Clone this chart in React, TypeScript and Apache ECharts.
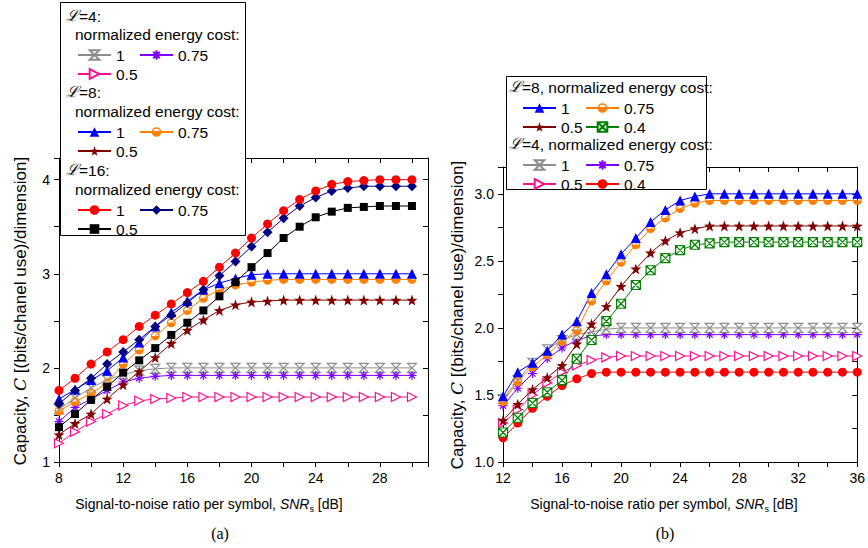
import React, { useEffect, useRef } from "react";
import * as echarts from "echarts";

const FONT = "Liberation Sans, Arial, Helvetica, sans-serif";

// ---------- data: panel (a) ----------
const snrA = [8, 9, 10, 11, 12, 13, 14, 15, 16, 17, 18, 19, 20, 21, 22, 23, 24, 25, 26, 27, 28, 29, 30];
const capA_L4_1 = [1.56, 1.68, 1.79, 1.87, 1.93, 1.97, 1.99, 2.0, 2.0, 2.0, 2.0, 2.0, 2.0, 2.0, 2.0, 2.0, 2.0, 2.0, 2.0, 2.0, 2.0, 2.0, 2.0];
const capA_L4_075 = [1.43, 1.58, 1.67, 1.76, 1.85, 1.89, 1.91, 1.92, 1.92, 1.92, 1.92, 1.92, 1.92, 1.92, 1.92, 1.92, 1.92, 1.92, 1.92, 1.92, 1.92, 1.92, 1.92];
const capA_L4_05 = [1.2, 1.32, 1.43, 1.51, 1.6, 1.65, 1.67, 1.68, 1.69, 1.69, 1.69, 1.69, 1.69, 1.69, 1.69, 1.69, 1.69, 1.69, 1.69, 1.69, 1.69, 1.69, 1.69];
const capA_L8_1 = [1.67, 1.77, 1.87, 1.97, 2.11, 2.27, 2.44, 2.59, 2.71, 2.83, 2.9, 2.95, 2.99, 3.0, 3.0, 3.0, 3.0, 3.0, 3.0, 3.0, 3.0, 3.0, 3.0];
const capA_L8_075 = [1.54, 1.64, 1.73, 1.84, 2.04, 2.19, 2.34, 2.48, 2.61, 2.74, 2.83, 2.88, 2.91, 2.93, 2.94, 2.94, 2.94, 2.94, 2.94, 2.94, 2.94, 2.94, 2.94];
const capA_L8_05 = [1.29, 1.41, 1.51, 1.67, 1.82, 1.96, 2.11, 2.26, 2.4, 2.51, 2.61, 2.67, 2.7, 2.71, 2.72, 2.72, 2.72, 2.72, 2.72, 2.72, 2.72, 2.72, 2.72];
const capA_L16_1 = [1.76, 1.89, 2.04, 2.17, 2.3, 2.44, 2.56, 2.68, 2.8, 2.92, 3.07, 3.22, 3.38, 3.53, 3.67, 3.79, 3.88, 3.95, 3.98, 3.99, 4.0, 4.0, 4.0];
const capA_L16_075 = [1.62, 1.76, 1.89, 2.04, 2.17, 2.3, 2.44, 2.56, 2.69, 2.83, 2.98, 3.13, 3.29, 3.44, 3.59, 3.72, 3.81, 3.88, 3.91, 3.93, 3.93, 3.93, 3.93];
const capA_L16_05 = [1.37, 1.51, 1.66, 1.8, 1.95, 2.08, 2.21, 2.35, 2.48, 2.61, 2.76, 2.91, 3.07, 3.22, 3.38, 3.5, 3.6, 3.66, 3.7, 3.71, 3.72, 3.72, 3.72];

// ---------- data: panel (b) ----------
const snrB = [12, 13, 14, 15, 16, 17, 18, 19, 20, 21, 22, 23, 24, 25, 26, 27, 28, 29, 30, 31, 32, 33, 34, 35, 36];
const capB_L8_1 = [1.49, 1.67, 1.74, 1.83, 1.95, 2.05, 2.26, 2.4, 2.55, 2.67, 2.79, 2.88, 2.95, 2.98, 3.0, 3.0, 3.0, 3.0, 3.0, 3.0, 3.0, 3.0, 3.0, 3.0, 3.0];
const capB_L8_075 = [1.45, 1.6, 1.71, 1.8, 1.9, 1.98, 2.2, 2.35, 2.49, 2.62, 2.74, 2.82, 2.89, 2.93, 2.95, 2.95, 2.95, 2.95, 2.95, 2.95, 2.95, 2.95, 2.95, 2.95, 2.95];
const capB_L8_05 = [1.31, 1.43, 1.54, 1.63, 1.72, 1.88, 2.03, 2.16, 2.31, 2.44, 2.56, 2.65, 2.71, 2.74, 2.76, 2.76, 2.76, 2.76, 2.76, 2.76, 2.76, 2.76, 2.76, 2.76, 2.76];
const capB_L8_04 = [1.22, 1.33, 1.44, 1.52, 1.61, 1.77, 1.91, 2.05, 2.18, 2.32, 2.43, 2.52, 2.58, 2.62, 2.63, 2.64, 2.64, 2.64, 2.64, 2.64, 2.64, 2.64, 2.64, 2.64, 2.64];
const capB_L4_1 = [1.47, 1.61, 1.74, 1.84, 1.91, 1.95, 1.97, 1.99, 2.0, 2.0, 2.0, 2.0, 2.0, 2.0, 2.0, 2.0, 2.0, 2.0, 2.0, 2.0, 2.0, 2.0, 2.0, 2.0, 2.0];
const capB_L4_075 = [1.42, 1.55, 1.66, 1.77, 1.85, 1.91, 1.94, 1.95, 1.95, 1.95, 1.95, 1.95, 1.95, 1.95, 1.95, 1.95, 1.95, 1.95, 1.95, 1.95, 1.95, 1.95, 1.95, 1.95, 1.95];
const capB_L4_05 = [1.29, 1.39, 1.5, 1.59, 1.67, 1.72, 1.76, 1.78, 1.79, 1.79, 1.79, 1.79, 1.79, 1.79, 1.79, 1.79, 1.79, 1.79, 1.79, 1.79, 1.79, 1.79, 1.79, 1.79, 1.79];
const capB_L4_04 = [1.18, 1.29, 1.4, 1.49, 1.57, 1.62, 1.66, 1.67, 1.67, 1.67, 1.67, 1.67, 1.67, 1.67, 1.67, 1.67, 1.67, 1.67, 1.67, 1.67, 1.67, 1.67, 1.67, 1.67, 1.67];

// legend labels (normalized energy cost)
const costLabels = ["1", "0.75", "0.5", "0.4"];

// ---------- symbols ----------
const SYM_STAR = "path://M10 0L12.35 6.76L19.51 6.91L13.8 11.24L15.88 18.09L10 14L4.12 18.09L6.2 11.24L0.49 6.91L7.65 6.76Z";
const SYM_HALF = "path://M0 10A10 10 0 1 1 20 10A10 10 0 1 1 0 10Z M3 10L17 10A7 7 0 0 0 3 10Z";
const SYM_HOURGLASS = "path://M0 0L10 0L0 10L10 10Z";
const SYM_BOXX = "path://M0 0L10 0L10 10L0 10Z M0 0L10 10 M10 0L0 10";
const SYM_AST = "path://M5 0L5 10M0 5L10 5M1.6 1.6L8.4 8.4M8.4 1.6L1.6 8.4";
const SYM_RTRI = "path://M0 0L10 5L0 10Z";

const C_GRAY = "#8c8c8c";
const C_PURPLE = "#8000ff";
const C_PINK = "#ff0f8f";
const C_BLUE = "#0000ff";
const C_ORANGE = "#ff8000";
const C_MAROON = "#800000";
const C_RED = "#ff0000";
const C_NAVY = "#000080";
const C_BLACK = "#000000";
const C_GREEN = "#008000";

type Sty = { color: string; symbol: string; size: number; hollow: boolean };
const S_L4_1: Sty = { color: C_GRAY, symbol: SYM_HOURGLASS, size: 9, hollow: true };
const S_L4_075: Sty = { color: C_PURPLE, symbol: SYM_AST, size: 9, hollow: true };
const S_L4_05: Sty = { color: C_PINK, symbol: SYM_RTRI, size: 9, hollow: true };
const S_L8_1: Sty = { color: C_BLUE, symbol: "triangle", size: 10, hollow: false };
const S_L8_075: Sty = { color: C_ORANGE, symbol: SYM_HALF, size: 9, hollow: false };
const S_L8_05: Sty = { color: C_MAROON, symbol: SYM_STAR, size: 11, hollow: false };
const S_L8_04: Sty = { color: C_GREEN, symbol: SYM_BOXX, size: 9, hollow: true };
const S_RED: Sty = { color: C_RED, symbol: "circle", size: 9, hollow: false };
const S_NAVY: Sty = { color: C_NAVY, symbol: "diamond", size: 10, hollow: false };
const S_BLACK: Sty = { color: C_BLACK, symbol: "rect", size: 8, hollow: false };

function mkSeries(name: string, xs: number[], ys: number[], s: Sty, panel: number, z: number) {
  return {
    type: "line",
    name,
    xAxisIndex: panel * 2,
    yAxisIndex: panel * 2,
    data: xs.map((x, i) => [x, ys[i]]),
    symbol: s.symbol,
    symbolSize: s.size,
    showAllSymbol: true,
    lineStyle: { color: s.color, width: 1 },
    itemStyle: s.hollow
      ? { color: "#ffffff", borderColor: s.color, borderWidth: 1.2 }
      : { color: s.color, borderWidth: 0 },
    emphasis: { disabled: true },
    z,
  };
}

const seriesList = [
  mkSeries("a41", snrA, capA_L4_1, S_L4_1, 0, 2),
  mkSeries("a4075", snrA, capA_L4_075, S_L4_075, 0, 2),
  mkSeries("a405", snrA, capA_L4_05, S_L4_05, 0, 2),
  mkSeries("a805", snrA, capA_L8_05, S_L8_05, 0, 3),
  mkSeries("a8075", snrA, capA_L8_075, S_L8_075, 0, 3),
  mkSeries("a81", snrA, capA_L8_1, S_L8_1, 0, 3),
  mkSeries("a1605", snrA, capA_L16_05, S_BLACK, 0, 4),
  mkSeries("a16075", snrA, capA_L16_075, S_NAVY, 0, 4),
  mkSeries("a161", snrA, capA_L16_1, S_RED, 0, 4),
  mkSeries("b404", snrB, capB_L4_04, S_RED, 1, 2),
  mkSeries("b405", snrB, capB_L4_05, S_L4_05, 1, 2),
  mkSeries("b4075", snrB, capB_L4_075, S_L4_075, 1, 2),
  mkSeries("b41", snrB, capB_L4_1, S_L4_1, 1, 2),
  mkSeries("b804", snrB, capB_L8_04, S_L8_04, 1, 3),
  mkSeries("b805", snrB, capB_L8_05, S_L8_05, 1, 3),
  mkSeries("b8075", snrB, capB_L8_075, S_L8_075, 1, 3),
  mkSeries("b81", snrB, capB_L8_1, S_L8_1, 1, 3),
];

// legend layout: [series name, label index, left, row center y]
const legendLayout: [string, number, number, number][] = [
  ["a41", 0, 77, 53], ["a4075", 1, 139, 53], ["a405", 2, 77, 72],
  ["a81", 0, 77, 130], ["a8075", 1, 139, 130], ["a805", 2, 77, 149],
  ["a161", 0, 77, 208], ["a16075", 1, 139, 208], ["a1605", 2, 77, 227],
  ["b81", 0, 522, 106], ["b8075", 1, 585, 106], ["b805", 2, 522, 125], ["b804", 3, 585, 125],
  ["b41", 0, 522, 163], ["b4075", 1, 585, 163], ["b405", 2, 522, 182], ["b404", 3, 585, 182],
];

const LEG_FS = 15.5;

function xAxisPair(grid: number, min: number, max: number, interval: number, labelStep: number) {
  const fmt = (v: number) => (Math.abs(v / labelStep - Math.round(v / labelStep)) < 1e-6 ? String(v) : "");
  return [
    {
      type: "value", gridIndex: grid, position: "bottom", min, max, interval,
      axisLine: { show: true, onZero: false, lineStyle: { color: "#000", width: 1 } },
      axisTick: { show: true, inside: false, length: 5, lineStyle: { color: "#000", width: 1 } },
      axisLabel: { formatter: fmt, fontSize: 14, color: "#000", margin: 9, fontFamily: FONT, showMaxLabel: true, showMinLabel: true },
      splitLine: { show: false },
    },
    {
      type: "value", gridIndex: grid, position: "top", min, max, interval,
      axisLine: { show: true, onZero: false, lineStyle: { color: "#000", width: 1 } },
      axisTick: { show: true, inside: true, length: 5, lineStyle: { color: "#000", width: 1 } },
      axisLabel: { show: false },
      splitLine: { show: false },
    },
  ];
}

function yAxisPair(grid: number, min: number, max: number, interval: number, labelStep: number, digits: number) {
  const fmt = (v: number) => (Math.abs(v / labelStep - Math.round(v / labelStep)) < 1e-6 ? v.toFixed(digits) : "");
  return [
    {
      type: "value", gridIndex: grid, position: "left", min, max, interval,
      axisLine: { show: true, onZero: false, lineStyle: { color: "#000", width: 1 } },
      axisTick: { show: true, inside: false, length: 5, lineStyle: { color: "#000", width: 1 } },
      axisLabel: { formatter: fmt, fontSize: 14, color: "#000", margin: 9, fontFamily: FONT },
      splitLine: { show: false },
    },
    {
      type: "value", gridIndex: grid, position: "right", min, max, interval,
      axisLine: { show: true, onZero: false, lineStyle: { color: "#000", width: 1 } },
      axisTick: { show: true, inside: true, length: 5, lineStyle: { color: "#000", width: 1 } },
      axisLabel: { show: false },
      splitLine: { show: false },
    },
  ];
}

function headerText(x: number, y: number, text: string) {
  return {
    type: "text", x, y, z: 12,
    style: {
      text, fontSize: LEG_FS, fontFamily: FONT, fill: "#000", align: "left", verticalAlign: "middle",
      rich: { i: { fontStyle: "italic", fontSize: LEG_FS, fontFamily: "DejaVu Serif, serif" } },
    },
  };
}

export default function App() {
  const ref = useRef<HTMLDivElement>(null);
  useEffect(() => {
    if (!ref.current) return;
    const chart = echarts.init(ref.current, undefined, { renderer: "svg" });
    const xa = xAxisPair(0, 8, 31, 2, 4);
    const xb = xAxisPair(1, 12, 36, 2, 4);
    const ya = yAxisPair(0, 1, 4.23, 0.5, 1, 0);
    const yb = yAxisPair(1, 1, 3.2, 0.25, 0.5, 1);

    const legends = legendLayout.map(([name, li, left, cy]) => ({
      show: true,
      left,
      top: cy - 6,
      padding: 0,
      itemWidth: 33,
      itemHeight: 12,
      itemGap: 0,
      selectedMode: false,
      data: [name],
      formatter: () => costLabels[li],
      textStyle: { fontSize: LEG_FS, fontFamily: FONT, color: "#000", lineHeight: 16 },
      z: 20,
    }));

    const titleRich = {
      i: { fontStyle: "italic", fontSize: 17, fontFamily: "DejaVu Serif, serif" },
    };
    const xRich = {
      i: { fontStyle: "italic", fontSize: 14, fontFamily: FONT },
      s: { fontSize: 9, fontFamily: FONT, padding: [9, 0, 0, 0] },
    };

    const graphic = [
      // legend boxes
      { type: "rect", z: 10, shape: { x: 60.5, y: 2.5, width: 185, height: 233 }, style: { fill: "#fff", stroke: "#000", lineWidth: 1 } },
      { type: "rect", z: 10, shape: { x: 506.5, y: 76.5, width: 200, height: 113 }, style: { fill: "#fff", stroke: "#000", lineWidth: 1 } },
      headerText(66, 16, "{i|ℒ}=4:"),
      headerText(75, 34, "normalized energy cost:"),
      headerText(66, 92, "{i|ℒ}=8:"),
      headerText(75, 111, "normalized energy cost:"),
      headerText(66, 170, "{i|ℒ}=16:"),
      headerText(75, 189, "normalized energy cost:"),
      headerText(509, 87, "{i|ℒ}=8, normalized energy cost:"),
      headerText(509, 144, "{i|ℒ}=4, normalized energy cost:"),
      // axis titles
      {
        type: "text", x: 20, y: 311, rotation: Math.PI / 2, z: 5,
        style: { text: "Capacity, {i|C} [(bits/chanel use)/dimension]", fontSize: 17, fontFamily: FONT, fill: "#000", align: "center", verticalAlign: "middle", rich: titleRich },
      },
      {
        type: "text", x: 457, y: 315, rotation: Math.PI / 2, z: 5,
        style: { text: "Capacity, {i|C} [(bits/chanel use)/dimension]", fontSize: 17, fontFamily: FONT, fill: "#000", align: "center", verticalAlign: "middle", rich: titleRich },
      },
      {
        type: "text", x: 209, y: 504, z: 5,
        style: { text: "Signal-to-noise ratio per symbol, {i|SNR}{s|s} [dB]", fontSize: 14, fontFamily: FONT, fill: "#000", align: "center", verticalAlign: "middle", rich: xRich },
      },
      {
        type: "text", x: 664, y: 504, z: 5,
        style: { text: "Signal-to-noise ratio per symbol, {i|SNR}{s|s} [dB]", fontSize: 14, fontFamily: FONT, fill: "#000", align: "center", verticalAlign: "middle", rich: xRich },
      },
      {
        type: "text", x: 220, y: 533, z: 5,
        style: { text: "(a)", fontSize: 16, fontFamily: "Liberation Serif, Times New Roman, serif", fill: "#000", align: "center", verticalAlign: "middle" },
      },
      {
        type: "text", x: 665, y: 533, z: 5,
        style: { text: "(b)", fontSize: 16, fontFamily: "Liberation Serif, Times New Roman, serif", fill: "#000", align: "center", verticalAlign: "middle" },
      },
    ];

    chart.setOption({
      animation: false,
      backgroundColor: "#fff",
      grid: [
        { left: 59, top: 158, width: 369, height: 304, containLabel: false },
        { left: 503, top: 167, width: 356, height: 295, containLabel: false },
      ],
      xAxis: [...xa, ...xb],
      yAxis: [...ya, ...yb],
      legend: legends,
      series: seriesList,
      graphic,
    });
    return () => chart.dispose();
  }, []);
  return <div ref={ref} style={{ position: "fixed", left: 0, top: 0, width: 868, height: 548 }} />;
}
